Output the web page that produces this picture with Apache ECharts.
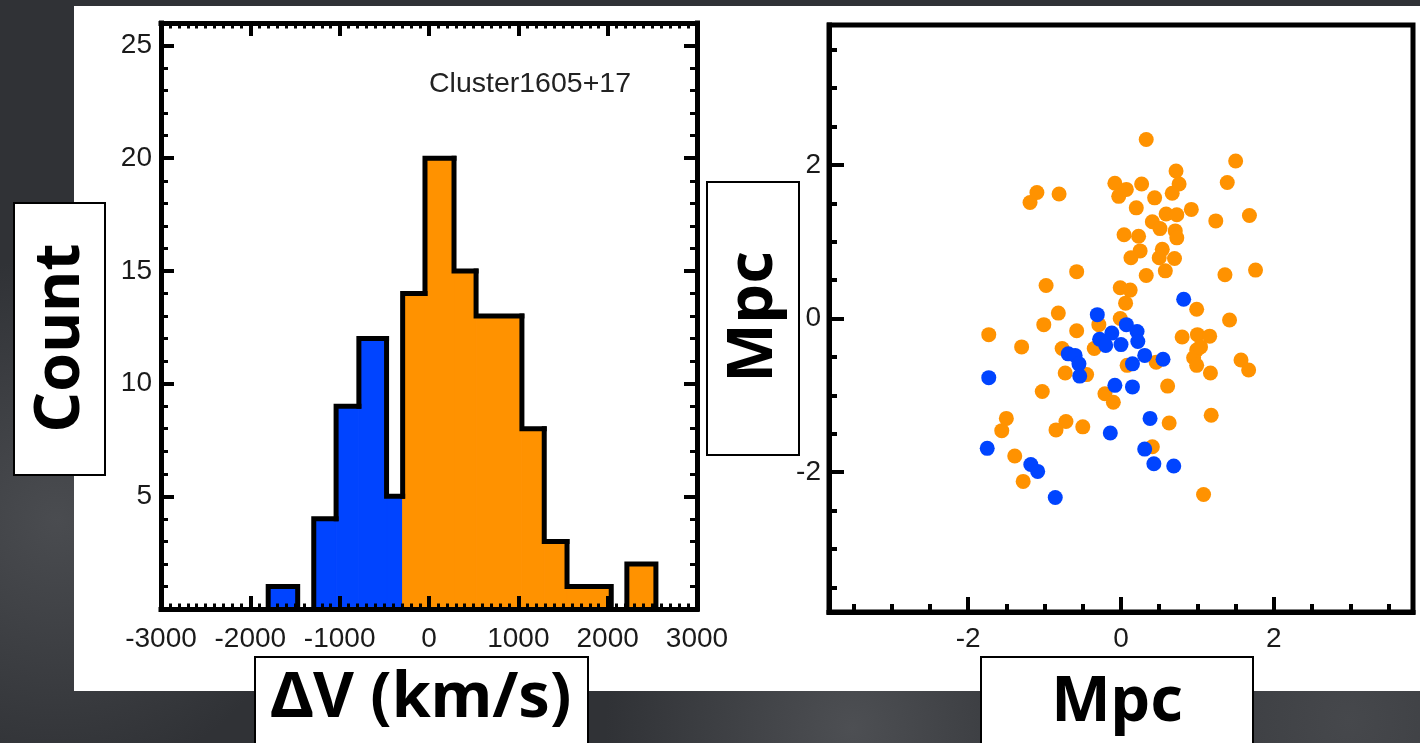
<!DOCTYPE html>
<html>
<head>
<meta charset="utf-8">
<title>Cluster1605+17</title>
<script src="https://cdn.jsdelivr.net/npm/echarts@6/dist/echarts.min.js"></script>
<style>
  html, body { margin: 0; padding: 0; }
  body {
    width: 1420px; height: 743px; overflow: hidden; position: relative;
    background:
      radial-gradient(circle at 4% 70%, #4a4c50 0, rgba(0,0,0,0) 18%),
      radial-gradient(circle at 60% 98%, #4d4f53 0, rgba(0,0,0,0) 22%),
      radial-gradient(circle at 95% 97%, #46484c 0, rgba(0,0,0,0) 20%),
      #303236;
  }
  .sheet { position: absolute; left: 74px; top: 6px; width: 1346px; height: 685px; background: #fff; }
  #chart { position: absolute; left: 0; top: 0; width: 1420px; height: 743px; }
</style>
</head>
<body>
<div class="sheet"></div>
<div id="chart"></div>
<script>
  // velocity histogram (km/s), bins
  var binLeft  = [-1800, -1290, -1040, -785, -475, -295, -45, 280, 527, 1040, 1290, 1545, 2215]
  var binRight = [-1470, -1040, -785, -475, -295, -45, 280, 527, 1040, 1290, 1545, 2040, 2540]
  var binCount = [1, 4, 9, 12, 5, 14, 20, 15, 13, 8, 3, 1, 2]
  var binGroup = ['sub', 'sub', 'sub', 'sub', 'sub', 'main', 'main', 'main', 'main', 'main', 'main', 'main', 'main']

  // projected positions (Mpc)
  var mainGalaxies = [
    [-1.10, 1.64], [-1.19, 1.51], [-0.81, 1.62], [-0.08, 1.76], [-0.03, 1.59], [0.07, 1.68], [0.27, 1.75],
    [0.33, 2.33], [0.72, 1.92], [0.76, 1.75], [0.67, 1.63], [0.44, 1.57], [1.39, 1.77], [1.50, 2.05],
    [0.20, 1.44], [0.59, 1.36], [0.73, 1.35], [0.92, 1.42], [1.24, 1.27], [1.68, 1.34], [0.41, 1.26],
    [0.51, 1.17], [0.04, 1.09], [0.23, 1.07], [0.71, 1.14], [0.73, 1.05], [0.25, 0.88], [0.13, 0.79],
    [0.54, 0.90], [0.50, 0.79], [0.70, 0.78], [0.58, 0.62], [-0.58, 0.61], [-0.98, 0.43], [0.33, 0.56],
    [1.36, 0.57], [1.76, 0.63], [-0.01, 0.40], [0.12, 0.37], [0.06, 0.20], [0.99, 0.12], [1.42, -0.02],
    [-0.82, 0.07], [-1.01, -0.08], [-1.73, -0.21], [-1.30, -0.37], [-0.58, -0.16], [-0.77, -0.39],
    [-0.29, -0.08], [-0.01, 0.00], [-0.35, -0.39], [0.80, -0.24], [1.00, -0.21], [1.16, -0.23],
    [0.99, -0.41], [0.95, -0.51], [1.04, -0.37], [-0.73, -0.71], [-0.45, -0.73], [0.46, -0.57],
    [1.17, -0.71], [1.57, -0.54], [1.67, -0.67], [0.99, -0.61], [0.08, -0.61], [-1.03, -0.95],
    [-0.21, -0.98], [-0.10, -1.09], [0.61, -0.88], [-1.50, -1.30], [-1.56, -1.46], [-0.72, -1.34],
    [-0.85, -1.45], [-0.50, -1.41], [0.63, -1.36], [1.18, -1.26], [-1.39, -1.79], [-1.28, -2.12],
    [0.41, -1.67], [1.08, -2.29]
  ]
  var subGalaxies = [
    [-0.31, 0.05], [-0.12, -0.19], [-0.28, -0.27], [-0.20, -0.35], [0.00, -0.34], [0.07, -0.08],
    [0.21, -0.17], [0.22, -0.30], [0.31, -0.48], [0.15, -0.59], [0.55, -0.53], [0.82, 0.25],
    [-0.69, -0.46], [-0.60, -0.48], [-0.55, -0.59], [-0.54, -0.75], [-1.73, -0.77], [-0.08, -0.87],
    [0.15, -0.89], [-0.14, -1.49], [0.38, -1.30], [-1.75, -1.69], [-1.18, -1.90], [-1.09, -1.99],
    [-0.86, -2.33], [0.31, -1.70], [0.43, -1.89], [0.69, -1.92]
  ]

  // ticks
  var countLabels = [5, 10, 15, 20, 25]
  var countMinor = [1, 2, 3, 4, 6, 7, 8, 9, 11, 12, 13, 14, 16, 17, 18, 19, 21, 22, 23, 24, 26]
  var mpcLabels = [-2, 0, 2]
  var mpcMinor = [-3.5, -3, -2.5, -1.5, -1, -0.5, 0.5, 1, 1.5, 2.5, 3, 3.5]

  var colors = { main: '#ff9200', sub: '#0044ff' }
  var ink = '#000'
  var tickFont = { fontFamily: 'Liberation Sans', fontSize: 28, color: '#1a1a1a', formatter: function (v) { return String(v) } }

  function line (w) {
    return { color: ink, width: w, cap: 'square' }
  }

  function histX (pos, labels) {
    return {
      type: 'value', gridIndex: 0, position: pos, min: -3000, max: 3000, interval: 1000, z: 10,
      axisLine: { show: true, onZero: false, lineStyle: line(5) },
      axisTick: { inside: true, length: 11, lineStyle: line(4) },
      minorTick: { show: true, splitNumber: 10, length: 5.5, lineStyle: { color: ink, width: 3 } },
      axisLabel: labels ? Object.assign({ margin: 16 }, tickFont) : { show: false },
      splitLine: { show: false }
    }
  }

  function countAxis (pos, ticks, len, w, labels, showLine) {
    return {
      type: 'value', gridIndex: 0, position: pos, min: 0, max: 26, z: 10,
      axisLine: { show: showLine, onZero: false, lineStyle: line(5) },
      axisTick: { inside: true, length: len, customValues: ticks, lineStyle: line(w) },
      axisLabel: labels ? Object.assign({ margin: 9, padding: [8, 0, 0, 0], customValues: countLabels }, tickFont) : { show: false },
      splitLine: { show: false }
    }
  }

  function mpcAxis (kind, ticks, len, w, labels, showLine) {
    var ax = {
      type: 'value', gridIndex: 1, min: -3.82, max: 3.82, z: 10,
      axisLine: { show: showLine, onZero: false, lineStyle: line(5) },
      axisTick: { inside: true, length: len, customValues: ticks, lineStyle: line(w) },
      axisLabel: labels ? Object.assign({ margin: 13, customValues: mpcLabels }, tickFont) : { show: false },
      splitLine: { show: false }
    }
    ax.position = kind === 'x' ? 'bottom' : 'left'
    if (labels && kind === 'y') {
      ax.axisLabel.margin = 8
      ax.axisLabel.padding = [6, 0, 0, 0]
    }
    return ax
  }

  function renderFill (params, api) {
    var lo = api.coord([api.value(0), 0])
    var hi = api.coord([api.value(1), api.value(2)])
    var c = colors[binGroup[params.dataIndex]]
    return {
      type: 'rect',
      shape: { x: lo[0], y: hi[1], width: hi[0] - lo[0], height: lo[1] - hi[1] },
      style: { fill: c, stroke: c, lineWidth: 1 }
    }
  }

  // step outline: left edge from the neighbour's height, the top, and a drop to 0 where a run ends
  function renderEdge (params, api) {
    var i = params.dataIndex
    var l = binLeft[i], r = binRight[i], h = binCount[i]
    var prevH = (i > 0 && binRight[i - 1] === l) ? binCount[i - 1] : 0
    var hasNext = i < binLeft.length - 1 && binLeft[i + 1] === r
    var pts = [[l, prevH], [l, h], [r, h]]
    if (!hasNext) pts.push([r, 0])
    return {
      type: 'polyline',
      shape: { points: pts.map(function (p) { return api.coord(p) }) },
      style: { stroke: ink, lineWidth: 5, fill: null, lineJoin: 'miter', lineCap: 'square' }
    }
  }

  var bins = binLeft.map(function (l, i) { return [l, binRight[i], binCount[i]] })

  function labelBox (x, y, w, h, text, tx, ty, rot) {
    return {
      type: 'group', z: 100,
      children: [
        { type: 'rect', shape: { x: x, y: y, width: w, height: h }, style: { fill: '#fff', stroke: ink, lineWidth: 2 } },
        {
          type: 'text', x: tx, y: ty, rotation: rot,
          style: { text: text, font: 'bold 63px "Noto Sans"', fill: ink, align: 'center', verticalAlign: 'middle' }
        }
      ]
    }
  }

  var myChart = echarts.init(document.getElementById('chart'), null, { renderer: 'canvas' })
  myChart.setOption({
    animation: false,
    backgroundColor: 'transparent',
    grid: [
      { left: 161, top: 23, width: 536, height: 586 },
      { left: 829, top: 25, width: 584, height: 587, show: true, borderColor: ink, borderWidth: 5, backgroundColor: 'transparent' }
    ],
    xAxis: [
      histX('bottom', true),
      histX('top', false),
      mpcAxis('x', mpcLabels, 13, 4, true, true),
      mpcAxis('x', mpcMinor, 6, 4, false, false)
    ],
    yAxis: [
      countAxis('left', countLabels, 11, 4, true, true),
      countAxis('right', countLabels, 11, 4, false, true),
      countAxis('left', countMinor, 5.5, 3, false, false),
      countAxis('right', countMinor, 5.5, 3, false, false),
      mpcAxis('y', mpcLabels, 13, 4, true, true),
      mpcAxis('y', mpcMinor, 6, 4, false, false)
    ],
    series: [
      {
        type: 'custom', xAxisIndex: 0, yAxisIndex: 0, data: bins,
        encode: { x: [0, 1], y: 2 }, renderItem: renderFill, z: 2, silent: true
      },
      {
        type: 'custom', xAxisIndex: 0, yAxisIndex: 0, data: bins,
        encode: { x: [0, 1], y: 2 }, renderItem: renderEdge, z: 3, silent: true
      },
      {
        type: 'scatter', xAxisIndex: 2, yAxisIndex: 4, data: mainGalaxies,
        symbolSize: 15, itemStyle: { color: colors.main, opacity: 1 }, z: 3, silent: true
      },
      {
        type: 'scatter', xAxisIndex: 2, yAxisIndex: 4, data: subGalaxies,
        symbolSize: 15, itemStyle: { color: colors.sub, opacity: 1 }, z: 4, silent: true
      }
    ],
    graphic: [
      {
        type: 'text', left: 429, top: 70, z: 50,
        style: { text: 'Cluster1605+17', font: '28.5px "Liberation Sans"', fill: '#222' }
      },
      labelBox(14, 203, 91, 272, 'Count', 61, 338, Math.PI / 2),
      labelBox(255, 657, 333, 100, 'ΔV (km/s)', 421, 699, 0),
      labelBox(707, 182, 92, 273, 'Mpc', 754, 317, Math.PI / 2),
      labelBox(981, 657, 272, 100, 'Mpc', 1117, 703, 0)
    ]
  })
</script>
</body>
</html>
